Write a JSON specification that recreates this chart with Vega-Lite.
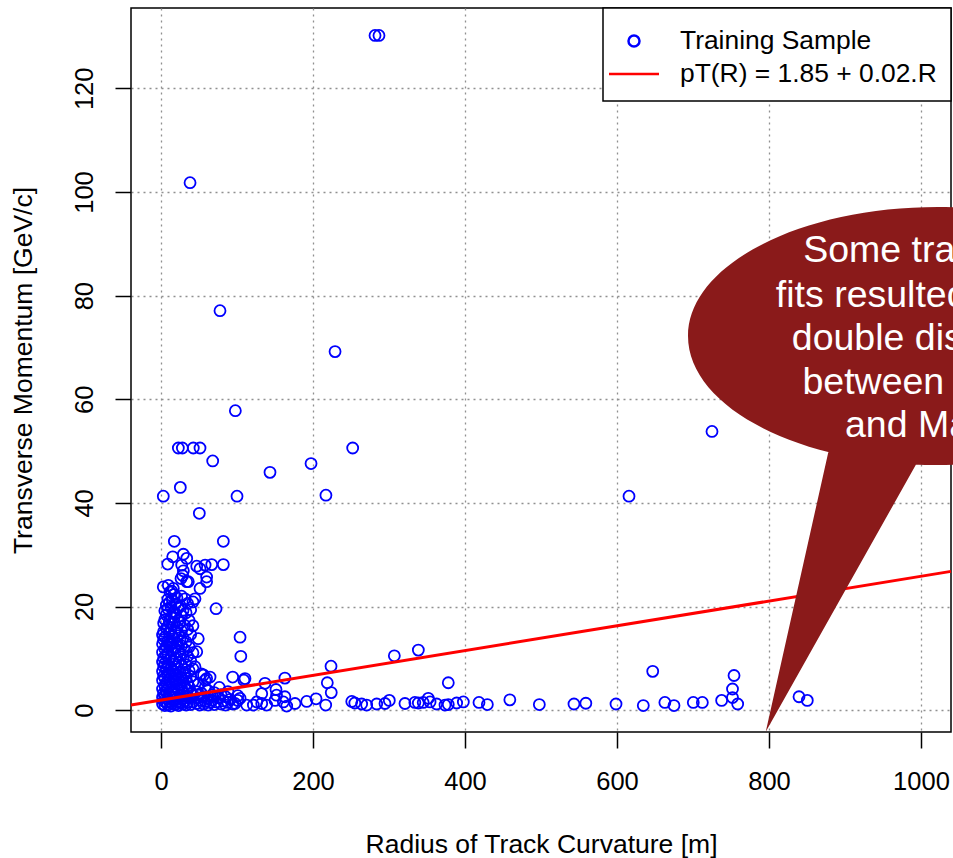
{
  "$schema": "https://vega.github.io/schema/vega-lite/v6.json",
  "width": 820,
  "height": 724,
  "autosize": {"type": "none"},
  "padding": {"left": 131, "top": 8, "right": 2, "bottom": 126},
  "background": "white",
  "config": {
    "view": {"stroke": "black", "strokeWidth": 1.5},
    "font": "Liberation Sans",
    "axis": {
      "domain": false,
      "grid": true,
      "gridColor": "#909090",
      "gridDash": [2, 4],
      "gridWidth": 1.3,
      "tickColor": "black",
      "tickSize": 16,
      "tickWidth": 1.5,
      "labelFont": "Liberation Sans",
      "labelFontSize": 25.5,
      "labelColor": "black",
      "labelOverlap": false,
      "labelFlush": false,
      "titleFont": "Liberation Sans",
      "titleFontSize": 26.5,
      "titleFontWeight": "normal",
      "titleColor": "black"
    },
    "legend": {
      "orient": "top-right",
      "offset": 0,
      "padding": 13.5,
      "fillColor": "white",
      "strokeColor": "black",
      "strokeWidth": 1.5,
      "symbolSize": 1303,
      "symbolStrokeWidth": 2.5,
      "labelFont": "Liberation Sans",
      "labelFontSize": 26.4,
      "labelColor": "black",
      "labelOffset": 26.5,
      "symbolOffset": -2,
      "rowPadding": 0,
      "labelLimit": 0,
      "title": null
    }
  },
  "datasets": {
    "pts": [
      {"R":2,"pT":1.2},{"R":2,"pT":2.5},{"R":2,"pT":4.1},{"R":2,"pT":5.8},{"R":2,"pT":7.5},{"R":2,"pT":9.3},{"R":2,"pT":11.2},{"R":2,"pT":12.8},{"R":2,"pT":14.5},
      {"R":3.5,"pT":1.8},{"R":3.5,"pT":3.3},{"R":3.5,"pT":6.6},{"R":3.5,"pT":8.4},{"R":3.5,"pT":10.1},{"R":3.5,"pT":13.6},{"R":3.5,"pT":15.2},{"R":3.5,"pT":16.8},
      {"R":5,"pT":0.9},{"R":5,"pT":2.9},{"R":5,"pT":4.8},{"R":5,"pT":6.2},{"R":5,"pT":9.0},{"R":5,"pT":11.8},{"R":5,"pT":14.1},{"R":5,"pT":17.5},{"R":5,"pT":19.2},
      {"R":7,"pT":1.5},{"R":7,"pT":3.7},{"R":7,"pT":5.3},{"R":7,"pT":7.9},{"R":7,"pT":10.6},{"R":7,"pT":12.3},{"R":7,"pT":15.8},{"R":7,"pT":18.4},{"R":7,"pT":20.3},
      {"R":9,"pT":1.0},{"R":9,"pT":2.2},{"R":9,"pT":4.4},{"R":9,"pT":6.9},{"R":9,"pT":8.7},{"R":9,"pT":11.0},{"R":9,"pT":13.3},{"R":9,"pT":16.2},{"R":9,"pT":19.6},{"R":9,"pT":21.4},
      {"R":11,"pT":1.7},{"R":11,"pT":3.1},{"R":11,"pT":5.6},{"R":11,"pT":7.2},{"R":11,"pT":9.8},{"R":11,"pT":12.6},{"R":11,"pT":14.8},{"R":11,"pT":17.1},{"R":11,"pT":20.8},
      {"R":13,"pT":0.8},{"R":13,"pT":2.6},{"R":13,"pT":4.0},{"R":13,"pT":6.4},{"R":13,"pT":8.1},{"R":13,"pT":10.3},{"R":13,"pT":13.0},{"R":13,"pT":15.5},{"R":13,"pT":18.0},{"R":13,"pT":19.9},
      {"R":15,"pT":1.3},{"R":15,"pT":3.5},{"R":15,"pT":5.1},{"R":15,"pT":7.7},{"R":15,"pT":9.5},{"R":15,"pT":11.5},{"R":15,"pT":14.2},{"R":15,"pT":16.6},{"R":15,"pT":21.2},
      {"R":17,"pT":2.0},{"R":17,"pT":4.6},{"R":17,"pT":6.0},{"R":17,"pT":8.9},{"R":17,"pT":12.1},{"R":17,"pT":13.8},{"R":17,"pT":17.8},{"R":17,"pT":19.0},{"R":17,"pT":22.3},
      {"R":19,"pT":1.1},{"R":19,"pT":3.0},{"R":19,"pT":5.4},{"R":19,"pT":7.0},{"R":19,"pT":10.0},{"R":19,"pT":11.9},{"R":19,"pT":15.0},{"R":19,"pT":18.6},{"R":19,"pT":20.5},
      {"R":21,"pT":1.6},{"R":21,"pT":2.4},{"R":21,"pT":4.2},{"R":21,"pT":6.7},{"R":21,"pT":8.4},{"R":21,"pT":12.9},{"R":21,"pT":16.0},{"R":21,"pT":21.7},
      {"R":23,"pT":0.9},{"R":23,"pT":3.8},{"R":23,"pT":5.9},{"R":23,"pT":9.2},{"R":23,"pT":11.3},{"R":23,"pT":14.4},{"R":23,"pT":17.4},{"R":23,"pT":19.8},
      {"R":25,"pT":1.4},{"R":25,"pT":2.8},{"R":25,"pT":5.0},{"R":25,"pT":7.4},{"R":25,"pT":10.8},{"R":25,"pT":13.5},{"R":25,"pT":16.9},{"R":25,"pT":20.2},
      {"R":27,"pT":2.1},{"R":27,"pT":4.3},{"R":27,"pT":6.3},{"R":27,"pT":8.6},{"R":27,"pT":12.4},{"R":27,"pT":15.3},{"R":27,"pT":18.2},{"R":27,"pT":22.0},
      {"R":29,"pT":1.2},{"R":29,"pT":3.4},{"R":29,"pT":5.7},{"R":29,"pT":9.9},{"R":29,"pT":14.0},{"R":29,"pT":19.3},
      {"R":31,"pT":1.8},{"R":31,"pT":4.7},{"R":31,"pT":7.3},{"R":31,"pT":11.7},{"R":31,"pT":16.4},
      {"R":33,"pT":1.0},{"R":33,"pT":2.7},{"R":33,"pT":6.1},{"R":33,"pT":8.8},{"R":33,"pT":13.2},{"R":33,"pT":18.8},
      {"R":35,"pT":1.5},{"R":35,"pT":3.9},{"R":35,"pT":5.2},{"R":35,"pT":10.4},{"R":35,"pT":15.6},{"R":35,"pT":20.6},
      {"R":37,"pT":2.3},{"R":37,"pT":4.5},{"R":37,"pT":7.6},{"R":37,"pT":12.2},{"R":37,"pT":17.3},
      {"R":39,"pT":1.1},{"R":39,"pT":3.2},{"R":39,"pT":6.5},{"R":39,"pT":9.6},{"R":39,"pT":14.6},{"R":39,"pT":19.4},
      {"R":42,"pT":1.6},{"R":42,"pT":2.9},{"R":42,"pT":5.5},{"R":42,"pT":8.0},{"R":42,"pT":11.1},{"R":42,"pT":16.3},{"R":42,"pT":20.9},
      {"R":44.7,"pT":8.4},{"R":47,"pT":1.3},{"R":47,"pT":3.6},{"R":47,"pT":11.3},{"R":49,"pT":2.4},{"R":49,"pT":5.0},{"R":49,"pT":13.8},
      {"R":51,"pT":1.0},{"R":53,"pT":1.9},{"R":53,"pT":3.3},{"R":53,"pT":7.0},{"R":56,"pT":1.2},{"R":56,"pT":2.6},{"R":56,"pT":6.8},
      {"R":58,"pT":1.7},{"R":58,"pT":4.4},{"R":58,"pT":5.8},{"R":60,"pT":6.1},{"R":62,"pT":1.0},{"R":62,"pT":2.2},{"R":62,"pT":3.8},
      {"R":64.5,"pT":6.4},{"R":64.5,"pT":1.5},{"R":67,"pT":1.9},{"R":67,"pT":2.9},{"R":70,"pT":1.1},{"R":70,"pT":3.4},{"R":72.4,"pT":1.6},
      {"R":75,"pT":2.4},{"R":76.7,"pT":4.4},{"R":79,"pT":1.2},{"R":79,"pT":3.0},{"R":82,"pT":1.8},{"R":85,"pT":1.0},{"R":85,"pT":2.6},
      {"R":88,"pT":1.5},{"R":88,"pT":3.6},{"R":91,"pT":2.1},{"R":94.3,"pT":6.4},{"R":94.3,"pT":1.2},{"R":97.4,"pT":1.3},{"R":101,"pT":1.9},{"R":101,"pT":2.8},
      {"R":8.8,"pT":28.2},{"R":15.4,"pT":29.6},{"R":29.4,"pT":30.1},{"R":33.8,"pT":29.3},{"R":27.2,"pT":28.0},{"R":29.4,"pT":26.9},{"R":28.5,"pT":26.0},
      {"R":33.8,"pT":24.8},{"R":51.3,"pT":23.5},{"R":47,"pT":27.8},{"R":58,"pT":28.0},{"R":66.7,"pT":28.1},{"R":82,"pT":28.1},{"R":60,"pT":25.7},{"R":60,"pT":24.8},
      {"R":3,"pT":23.8},{"R":9.6,"pT":24.1},{"R":14,"pT":23.0},{"R":16.2,"pT":23.5},{"R":11.8,"pT":22.8},{"R":44.7,"pT":21.5},{"R":31.6,"pT":21.5},{"R":72.4,"pT":19.6},
      {"R":35.9,"pT":24.8},{"R":26.3,"pT":25.4},{"R":51.3,"pT":27.3},
      {"R":281.6,"pT":130.2},{"R":286.8,"pT":130.2},{"R":38.2,"pT":101.8},{"R":77.6,"pT":77.1},{"R":229,"pT":69.2},{"R":97.8,"pT":57.8},
      {"R":22.8,"pT":50.6},{"R":28.1,"pT":50.6},{"R":42.5,"pT":50.6},{"R":51.3,"pT":50.6},{"R":252.2,"pT":50.6},{"R":68,"pT":48.1},{"R":143.4,"pT":45.9},
      {"R":197.4,"pT":47.6},{"R":25.4,"pT":43.0},{"R":3,"pT":41.3},{"R":100,"pT":41.3},{"R":217,"pT":41.5},{"R":50.4,"pT":38.0},{"R":17.5,"pT":32.6},
      {"R":82,"pT":32.6},{"R":615.8,"pT":41.3},{"R":725,"pT":53.8},
      {"R":104,"pT":14.1},{"R":105,"pT":10.4},{"R":109,"pT":5.8},{"R":110.5,"pT":6.1},{"R":104,"pT":2.3},{"R":112.7,"pT":1.0},{"R":121.5,"pT":1.0},
      {"R":126,"pT":1.6},{"R":132.5,"pT":3.2},{"R":132.5,"pT":1.3},{"R":136.8,"pT":5.2},{"R":139,"pT":1.0},{"R":150,"pT":1.9},{"R":151.3,"pT":4.0},
      {"R":152,"pT":2.9},{"R":163,"pT":6.2},{"R":163,"pT":2.6},{"R":165.4,"pT":0.8},{"R":161,"pT":1.6},{"R":176.3,"pT":1.3},{"R":191.7,"pT":1.7},
      {"R":204,"pT":2.2},{"R":216.7,"pT":1.0},{"R":218.8,"pT":5.3},{"R":223.7,"pT":8.5},{"R":224,"pT":3.4},{"R":251,"pT":1.7},{"R":255,"pT":1.4},
      {"R":264,"pT":1.2},{"R":270.6,"pT":1.0},{"R":283.8,"pT":1.2},{"R":294.7,"pT":1.3},{"R":300.4,"pT":1.9},{"R":307,"pT":10.5},{"R":321,"pT":1.3},
      {"R":334,"pT":1.5},{"R":338.6,"pT":1.4},{"R":338.6,"pT":11.6},{"R":345,"pT":1.5},{"R":351.7,"pT":2.3},{"R":354,"pT":1.6},{"R":362.7,"pT":1.2},
      {"R":373.7,"pT":1.0},{"R":378,"pT":1.1},{"R":378,"pT":5.3},{"R":389,"pT":1.4},{"R":397.8,"pT":1.6},{"R":418.4,"pT":1.5},{"R":429.4,"pT":1.1},
      {"R":459,"pT":2.0},{"R":497.8,"pT":1.1},{"R":543.4,"pT":1.2},{"R":559,"pT":1.35},{"R":598.7,"pT":1.2},{"R":634.6,"pT":0.9},{"R":647,"pT":7.5},
      {"R":663,"pT":1.5},{"R":675,"pT":0.9},{"R":700.4,"pT":1.5},{"R":712.3,"pT":1.5},{"R":737.7,"pT":1.9},{"R":754,"pT":6.7},{"R":752,"pT":4.1},
      {"R":752,"pT":2.45},{"R":758.8,"pT":1.2},{"R":839.5,"pT":2.6},{"R":850.4,"pT":1.9}
    ],
    "fit": [{"R": -39.5, "pT": 1.01}, {"R": 1039.5, "pT": 26.79}],
    "bubble": [{"R": 1022.4, "pT": 72.2}],
    "note": [
      {"t": "Some track", "R": 845, "pT": 86.5},
      {"t": "fits resulted in", "R": 809, "pT": 77.9},
      {"t": "double distances", "R": 830, "pT": 69.6},
      {"t": "between Hits", "R": 844, "pT": 61.1},
      {"t": "and Magnets", "R": 900, "pT": 52.7}
    ]
  },
  "encoding": {
    "x": {
      "field": "R", "type": "quantitative",
      "scale": {"domain": [-39.5, 1039.5], "nice": false, "zero": false},
      "axis": {"values": [0, 200, 400, 600, 800, 1000], "format": "d", "title": "Radius of Track Curvature [m]", "labelPadding": 21, "titlePadding": 37}
    },
    "y": {
      "field": "pT", "type": "quantitative",
      "scale": {"domain": [-4.2, 135.5], "nice": false, "zero": false},
      "axis": {"values": [0, 20, 40, 60, 80, 100, 120], "format": "d", "title": "Transverse Momentum [GeV/c]", "labelAngle": -90, "labelAlign": "center", "labelBaseline": "alphabetic", "labelPadding": 23, "titlePadding": 41, "titleBaseline": "alphabetic"}
    }
  },
  "layer": [
    {
      "data": {"name": "pts"},
      "mark": {"type": "point", "filled": false, "opacity": 1, "strokeWidth": 1.8, "size": 1303},
      "encoding": {
        "color": {"datum": "Training Sample", "scale": {"domain": ["Training Sample", "pT(R) = 1.85 + 0.02.R"], "range": ["#0000ff", "#ff0000"]}, "legend": {"title": null}},
        "shape": {"datum": "Training Sample", "scale": {"domain": ["Training Sample", "pT(R) = 1.85 + 0.02.R"], "range": ["M -0.3047 0 C -0.3047 -0.1683 -0.1683 -0.3047 0 -0.3047 C 0.1683 -0.3047 0.3047 -0.1683 0.3047 0 C 0.3047 0.1683 0.1683 0.3047 0 0.3047 C -0.1683 0.3047 -0.3047 0.1683 -0.3047 0 Z", "M -1.385 0 L 1.385 0"]}, "legend": {"title": null}}
      }
    },
    {
      "data": {"name": "fit"},
      "mark": {"type": "line", "strokeWidth": 3},
      "encoding": {
        "color": {"datum": "pT(R) = 1.85 + 0.02.R"}
      }
    },
    {
      "data": {"name": "bubble"},
      "mark": {"type": "point", "filled": true, "opacity": 1, "fill": "#8a1a1a", "strokeWidth": 0, "size": 250000,
        "shape": "M -1 0 C -1 -0.285 -0.5523 -0.516 0 -0.516 C 0.5523 -0.516 1 -0.285 1 0 C 1 0.285 0.5523 0.516 0 0.516 C -0.5523 0.516 -1 0.285 -1 0 Z M -0.41 0.336 L 0.012 0.336 L -0.689 1.583 Z"},
      "encoding": {}
    },
    {
      "data": {"name": "note"},
      "mark": {"type": "text", "align": "left", "baseline": "alphabetic", "fontSize": 37.5, "font": "Liberation Sans", "color": "white"},
      "encoding": {"text": {"field": "t"}}
    }
  ]
}
